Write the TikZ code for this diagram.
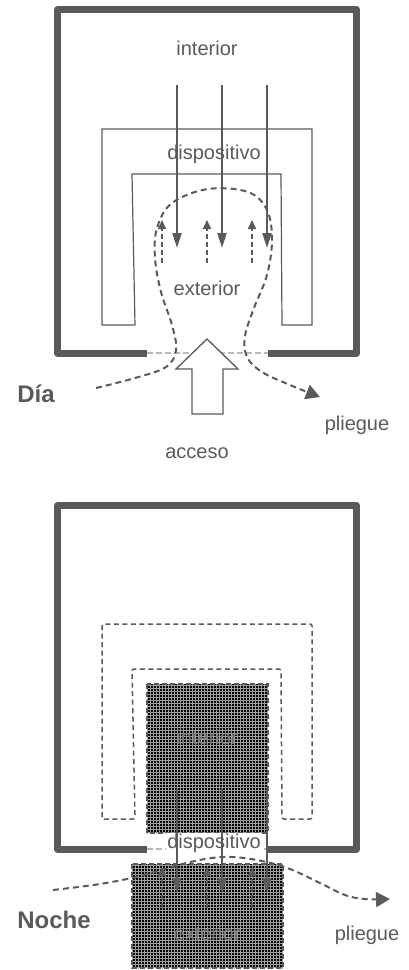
\documentclass[tikz,border=0pt]{standalone}
\usepackage{fontspec}
\setmainfont{Liberation Sans}
\usetikzlibrary{arrows.meta,patterns}
\definecolor{dg}{HTML}{5A5A5A}
\definecolor{lg}{HTML}{B8B8B8}
\begin{document}
\begin{tikzpicture}[x=1pt,y=-1pt,
  frame/.style={draw=dg, line width=7pt, line join=round},
  gapline/.style={draw=lg, line width=1.5pt, dash pattern=on 6pt off 3pt},
  ushape/.style={draw=dg, line width=1.2pt},
  ushapedash/.style={draw=dg, line width=1.5pt, dash pattern=on 5pt off 3.5pt, rounded corners=2pt},
  flow/.style={draw=dg, line width=2pt, -{Triangle[width=9pt,length=15pt]}},
  backflow/.style={draw=dg, line width=2pt, dash pattern=on 5pt off 3pt, -{Triangle[width=8pt,length=9pt]}},
  fold/.style={draw=dg, line width=2pt, dash pattern=on 6pt off 4pt, -{Triangle[width=15pt,length=14pt]}},
  lbl/.style={text=dg, font=\fontsize{20}{24}\selectfont, inner sep=0pt},
  dlbl/.style={text=black!52, font=\fontsize{20}{24}\selectfont, inner sep=0pt},
  blbl/.style={text=dg, font=\fontsize{24}{28}\selectfont\bfseries, inner sep=0pt},
  dark/.style={fill=black, postaction={pattern=grid, pattern color=white!62!black}},
  darkedge/.style={draw=dg, line width=1.5pt, dash pattern=on 5pt off 3pt},
  bigarrow/.style={draw=dg, line width=1.3pt, fill=white, line join=miter}
]
\useasboundingbox (0,0) rectangle (409,970);

% ================= DAY =================
\draw[frame] (147,353) -- (57.5,353) -- (57.5,9.5) -- (356.5,9.5) -- (356.5,353) -- (268,353);
\coordinate (dgl) at (147,353);
\coordinate (dgr) at (268,353);
\draw[gapline] (dgl) -- (dgr);

\draw[ushape] (102,325) -- (102,129) -- (312,129) -- (312,325) -- (282,325) -- (281,174) -- (132,174) -- (135,325) -- cycle;

\node[lbl] (dint) at (207,48) {interior};
\node[lbl] (ddisp) at (214,154) {dispositivo};
\node[lbl] (dext) at (207,288) {exterior};
\node[blbl] (dia) at (36,394) {Día};
\node[lbl] (dpl) at (357,425) {pliegue};
\node[lbl] (dacc) at (197,453) {acceso};

\foreach \x/\n in {177/a,222/b,267/c}{
  \coordinate (ds\n) at (\x,85);
  \coordinate (de\n) at (\x,248);
  \draw[flow] (ds\n) -- (de\n);
}
\foreach \x/\n in {162/a,207/b,252/c}{
  \coordinate (us\n) at (\x,263);
  \coordinate (ue\n) at (\x,220);
  \draw[backflow] (us\n) -- (ue\n);
}

\draw[fold] plot[smooth, tension=0.6] coordinates {(96,388) (135,378) (166,367) (176,350) (172,325) (161,292) (155,258) (157,228) (172,203) (208,189) (248,192) (267,210) (272,240) (267,275) (254,308) (245,336) (247,357) (262,372) (290,385) (320,397)};

\draw[bigarrow] (207,339) -- (238,369) -- (223,369) -- (223,414) -- (192,414) -- (192,369) -- (176,369) -- cycle;

% ================= NIGHT =================
\draw[frame] (147,849) -- (57.5,849) -- (57.5,505.5) -- (356.5,505.5) -- (356.5,849) -- (268,849);
\coordinate (ngl) at (147,849);
\coordinate (ngr) at (268,849);
\draw[gapline] (ngl) -- (ngr);

\draw[ushapedash] (102,819) -- (102,624) -- (312,624) -- (312,819) -- (282,819) -- (281,669) -- (132,669) -- (135,819) -- cycle;

\path[dark] (147,684) rectangle (268,833);
\draw[darkedge] (147,684) rectangle (268,833);
\node[dlbl] (nint) at (207,737) {interior};

\path[dark] (132,864) rectangle (283,968);
\draw[darkedge] (132,864) rectangle (283,968);
\node[dlbl] (next) at (207,933) {exterior};

\node[lbl, fill=white, inner sep=1pt] (ndisp) at (214,843) {dispositivo};

\foreach \x/\n in {177/a,222/b,267/c}{
  \coordinate (nds\n) at (\x,789);
  \coordinate (nde\n) at (\x,893);
  \draw[flow] (nds\n) -- (nde\n);
}
\foreach \x/\n in {162/a,207/b,252/c}{
  \coordinate (nus\n) at (\x,908);
  \coordinate (nue\n) at (\x,867);
  \draw[backflow] (nus\n) -- (nue\n);
}

\draw[fold] plot[smooth, tension=0.6] coordinates {(53,890) (100,884) (140,876) (175,866) (205,859) (232,857) (262,861) (290,869) (320,883) (345,895) (365,899) (390,899)};

\node[blbl] (noche) at (54,920) {Noche};
\node[lbl] (npl) at (367,935) {pliegue};

\end{tikzpicture}
\end{document}
